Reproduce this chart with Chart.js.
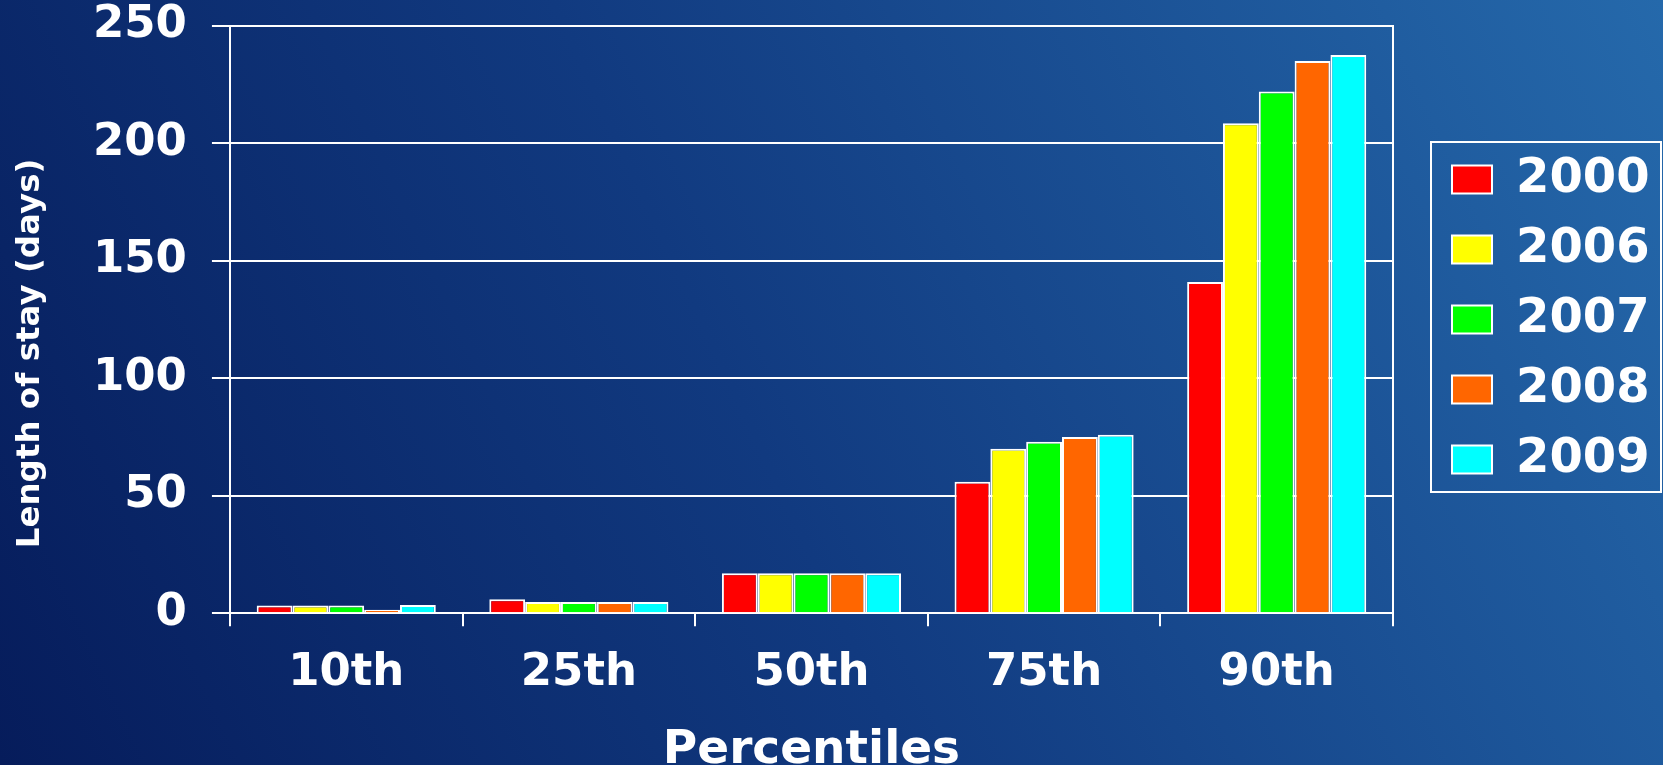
<!DOCTYPE html>
<html>
<head>
<meta charset="utf-8">
<title>Length of stay by percentile</title>
<script src="https://cdn.jsdelivr.net/npm/chart.js@4.4.1/dist/chart.umd.min.js"></script>
<style>
  html, body { margin: 0; padding: 0; }
  body {
    width: 1663px; height: 765px; overflow: hidden;
    background: linear-gradient(65deg, #061c5b 0%, #113a80 45%, #2569ab 100%);
  }
  #torta { display: block; }
</style>
</head>
<body>
<canvas id="torta" width="1663" height="765"></canvas>
<script>
// dati
var percentili = ['10th', '25th', '50th', '75th', '90th'];
var anni = ['2000', '2006', '2007', '2008', '2009'];
var colori = ['#ff0000', '#ffff00', '#00ff00', '#ff6600', '#00ffff'];

var s2000 = [3.3, 6, 17, 56, 141];
var s2006 = [3.3, 4.8, 17, 70, 208.5];
var s2007 = [3.3, 4.8, 17, 73, 222];
var s2008 = [1.5, 4.8, 17, 75, 235];
var s2009 = [3.5, 4.8, 17, 76, 237.5];
var serie = [s2000, s2006, s2007, s2008, s2009];

var yMax = 250;
var yStep = 50;

var fontFam = "'DejaVu Sans', sans-serif";

// cornice della legenda
var bordoLegenda = {
    id: 'bordoLegenda',
    afterDraw: function(chart) {
        var leg = chart.legend;
        if (!leg || !leg.legendHitBoxes || !leg.legendHitBoxes.length) return;
        var hb = leg.legendHitBoxes;
        var first = hb[0];
        var last = hb[hb.length - 1];
        var ctx = chart.ctx;
        var x0 = leg.left + 1;
        var y0 = first.top - 13.5;
        var y1 = last.top + last.height + 8.5;
        ctx.save();
        ctx.strokeStyle = '#ffffff';
        ctx.lineWidth = 2;
        ctx.strokeRect(x0, y0, chart.width - 2 - x0, y1 - y0);
        ctx.restore();
    }
};

var ctx = document.getElementById('torta');

var datasets = [];
for (var i = 0; i < anni.length; i++) {
    datasets.push({
        label: anni[i],
        data: serie[i],
        backgroundColor: colori[i],
        borderColor: '#ffffff',
        borderWidth: 2,
        barPercentage: 1,
        categoryPercentage: 0.77
    });
}

var config = {
    type: 'bar',
    data: {
        labels: percentili,
        datasets: datasets
    },
    options: {
        responsive: false,
        animation: false,
        devicePixelRatio: 1,
        layout: {
            padding: { left: 0, right: 3.4, top: 0, bottom: 0 }
        },
        plugins: {
            tooltip: { enabled: false },
            legend: {
                position: 'right',
                align: 'center',
                fullSize: false,
                labels: {
                    color: '#ffffff',
                    boxWidth: 40,
                    boxHeight: 28,
                    padding: 22,
                    font: { family: fontFam, size: 48, weight: 'bold' }
                }
            }
        },
        scales: {
            x: {
                grid: {
                    offset: true,
                    drawOnChartArea: false,
                    drawTicks: true,
                    tickLength: 13,
                    color: '#ffffff',
                    lineWidth: 2
                },
                border: { display: true, color: '#ffffff', width: 2 },
                ticks: {
                    color: '#ffffff',
                    padding: 19.7,
                    font: { family: fontFam, size: 45, weight: 'bold' }
                },
                title: {
                    display: true,
                    text: 'Percentiles',
                    color: '#ffffff',
                    font: { family: fontFam, size: 47, weight: 'bold', lineHeight: 0.6 },
                    padding: { top: 17.1, bottom: 0 }
                }
            },
            y: {
                min: 0,
                max: yMax,
                // il padding delle etichette spinge giu' l'area: lo riduco
                afterFit: function(scale) {
                    scale.paddingTop = 25.7;
                },
                grid: {
                    color: '#ffffff',
                    lineWidth: 2,
                    drawTicks: true,
                    tickLength: 18
                },
                border: { display: true, color: '#ffffff', width: 2 },
                ticks: {
                    stepSize: yStep,
                    color: '#ffffff',
                    padding: 25,
                    font: { family: fontFam, size: 45, weight: 'bold' }
                },
                title: {
                    display: true,
                    // spazi finali: abbassano il titolo come nell'originale
                    text: 'Length of stay (days)      ',
                    color: '#ffffff',
                    font: { family: fontFam, size: 32.5, weight: 'bold' },
                    padding: { top: 11, bottom: 18 }
                }
            },
            // asse fittizio a destra: solo la linea di bordo del grafico
            y2: {
                type: 'linear',
                position: 'right',
                grid: {
                    drawOnChartArea: false,
                    drawTicks: true,
                    tickLength: 37,
                    color: 'rgba(0,0,0,0)'
                },
                border: { display: true, color: '#ffffff', width: 2 },
                ticks: { display: false }
            }
        }
    },
    plugins: [bordoLegenda]
};

window.myBar = new Chart(ctx, config);
console.log(window.myBar.chartArea);
</script>
</body>
</html>
